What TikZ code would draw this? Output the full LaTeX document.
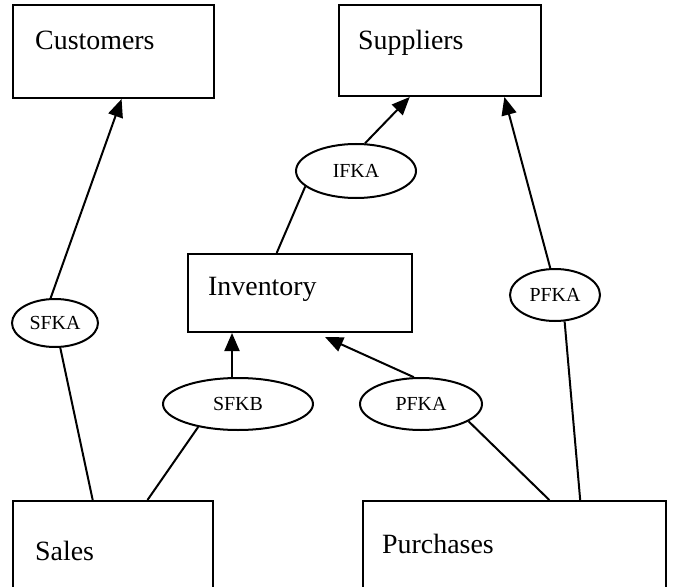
\documentclass[tikz,border=0pt]{standalone}
\usepackage{fontspec}
\setmainfont{Liberation Serif}
\usetikzlibrary{arrows.meta,shapes.geometric}
\begin{document}
\begin{tikzpicture}[x=1bp,y=-1bp,
  box/.style={draw, line width=2bp, anchor=north west, inner sep=0pt},
  boxtext/.style={anchor=base west, inner sep=0pt, font=\fontsize{28}{30}\selectfont},
  ell/.style={draw, ellipse, line width=2bp, inner sep=0pt, font=\fontsize{20}{22}\selectfont},
  conn/.style={line width=2bp},
  arr/.style={line width=2bp, -{Triangle[length=18bp,width=15bp]}}]
\useasboundingbox (0,0) rectangle (677,587);
\clip (0,0) rectangle (677,587);
% boxes
\node[box, minimum width=201bp, minimum height=93bp] (cust) at (12,4) {};
\node[boxtext] at ([shift={(23,46)}]cust.north west) {Customers};
\node[box, minimum width=202bp, minimum height=91bp] (supp) at (338,4) {};
\node[boxtext] at ([shift={(20,46)}]supp.north west) {Suppliers};
\node[box, minimum width=224bp, minimum height=78bp] (inv) at (187,253) {};
\node[boxtext] at ([shift={(21,42)}]inv.north west) {Inventory};
\node[box, minimum width=200bp, minimum height=120bp] (sales) at (12,500) {};
\node[boxtext] at ([shift={(23,60)}]sales.north west) {Sales};
\node[box, minimum width=303bp, minimum height=120bp] (purch) at (362,500) {};
\node[boxtext] at ([shift={(20,53)}]purch.north west) {Purchases};
% ellipses
\node[ell, minimum width=86bp, minimum height=48bp] (sfka) at (55,323) {SFKA};
\node[ell, minimum width=120bp, minimum height=54bp] (ifka) at (356,171) {IFKA};
\node[ell, minimum width=90bp, minimum height=52bp] (pfkar) at (555,295) {PFKA};
\node[ell, minimum width=150bp, minimum height=52bp] (sfkb) at (238,404) {SFKB};
\node[ell, minimum width=122bp, minimum height=52bp] (pfkal) at (421,404) {PFKA};
% connectors
\draw[conn] ([xshift=81]sales.north west) -- (sfka.-78);
\draw[arr] (sfka.100) -- ([xshift=110]cust.south west);
\draw[conn] ([xshift=136]sales.north west) -- (sfkb.-150);
\draw[arr] (sfkb.north -| 232,0) -- (inv.south -| 232,0);
\draw[conn] ([xshift=90]inv.north west) -- (ifka.-163);
\draw[arr] (ifka.72) -- ([xshift=72]supp.south west);
\draw[conn] ([xshift=219]purch.north west) -- (pfkar.-70);
\draw[arr] (pfkar.100) -- ([xshift=167]supp.south west);
\draw[conn] ([xshift=188]purch.north west) -- (pfkal.-20);
\draw[arr] (pfkal.105) -- ([shift={(138,4)}]inv.south west);
\end{tikzpicture}
\end{document}
